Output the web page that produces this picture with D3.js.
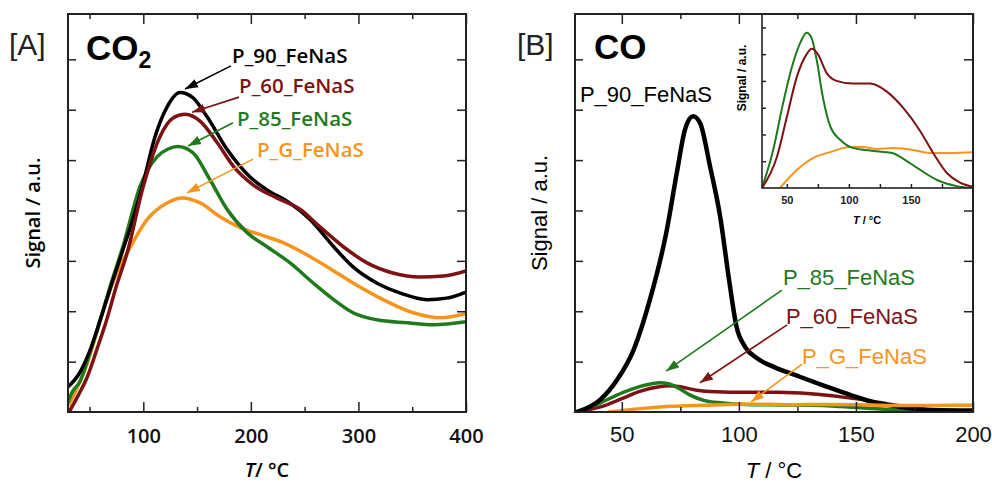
<!DOCTYPE html>
<html>
<head>
<meta charset="utf-8">
<script src="https://cdn.jsdelivr.net/npm/d3@7"></script>
<style>
  body { margin: 0; background: #fff; }
  svg { display: block; }
</style>
</head>
<body>
<svg id="chart" width="992" height="485"></svg>
<script>
// ---- data: [T in °C, signal in tick units] ----
const co2_P90 = [[30,0.5],[40,0.75],[50,1.2],[60,1.83],[70,2.5],[80,3.15],[90,3.8],[100,4.55],[110,5.4],[122,6.05],[134,6.34],[146,6.24],[159,5.87],[178,5.21],[199,4.67],[215,4.41],[236,4.15],[255,3.82],[277,3.28],[295,2.88],[317,2.56],[339,2.36],[364,2.23],[382,2.26],[400,2.38]];
const co2_P60 = [[31,0],[40,0.35],[48,0.7],[57,1.25],[66,1.83],[75,2.5],[85,3.16],[100,4.48],[115.6,5.47],[128,5.84],[139,5.91],[153,5.77],[168.6,5.35],[184,4.87],[202,4.51],[224,4.25],[246,4.02],[264,3.68],[286,3.28],[308,2.96],[332,2.76],[357,2.68],[379,2.7],[400,2.8]];
const co2_P85 = [[30,0.2],[34,0.4],[41,0.6],[50,1.15],[60,1.83],[70,2.55],[81,3.28],[97,4.48],[113,5.07],[123,5.22],[132,5.27],[146,5.15],[162,4.61],[178,4.02],[196.5,3.56],[215,3.28],[236.5,2.96],[258,2.56],[277,2.23],[295,1.97],[317,1.83],[345,1.77],[370,1.73],[400,1.79]];
const co2_PG = [[31,0.15],[40,0.55],[48,0.97],[57,1.6],[66,2.23],[75,2.75],[85,3.16],[103.5,3.82],[122,4.15],[136,4.25],[153,4.15],[171,3.88],[190,3.66],[208.6,3.52],[230,3.36],[248.6,3.16],[271,2.88],[295,2.56],[323,2.23],[351,1.97],[376,1.87],[400,1.95]];

const co_P90 = [[31,0],[40.7,0.24],[48,0.64],[55,1.23],[62,2.23],[69,3.56],[73.5,4.75],[77,5.61],[80.4,5.87],[83.4,5.74],[87.7,4.87],[92,3.88],[96,2.56],[99,1.69],[102.7,1.29],[107.6,1.07],[114.6,0.9],[126,0.7],[137.7,0.5],[147.5,0.34],[157,0.2],[169,0.1],[183,0.04],[200,0.03]];
const co_P85 = [[30,0],[39,0.142],[47,0.317],[54,0.45],[60.6,0.54],[66,0.58],[70,0.56],[74,0.48],[79,0.34],[85,0.23],[93,0.18],[103,0.15],[117,0.14],[135.6,0.13],[143.6,0.11],[155,0.075],[171,0.03],[187,0.007],[200,0]];
const co_P60 = [[30,0],[42,0.116],[50,0.265],[58,0.414],[66,0.5],[70,0.52],[75,0.5],[82,0.43],[90,0.4],[103,0.39],[117,0.39],[130.6,0.36],[143.6,0.3],[157,0.216],[168,0.13],[179,0.056],[189.5,0.02],[200,0.005]];
const co_PG = [[44.5,0],[58,0.067],[71,0.112],[85,0.134],[101,0.153],[111,0.153],[122.6,0.146],[135.6,0.149],[151.7,0.142],[165,0.131],[181.5,0.131],[200,0.134]];

const ticksA = { major: [100, 200, 300, 400], minor: [50, 150, 250, 350] };
const ticksB = { major: [50, 100, 150, 200], minor: [75, 125, 175] };
const ticksY = [1, 2, 3, 4, 5, 6, 7];
const ticksInsetX = [50, 75, 100, 125, 150, 175];
const ticksInsetY = [0.1, 0.2, 0.3, 0.4, 0.5, 0.6];

// labels + arrows in data units: [label x, label y, arrow from x, y, arrow to x, y]
const notesA = [
  ["P_90_FeNaS", "black", 182.5, 6.93, 181.5, 6.87, 138.8, 6.41],
  ["P_60_FeNaS", "red", 189, 6.33, 189, 6.25, 145.3, 5.95],
  ["P_85_FeNaS", "green", 187, 5.68, 183.4, 5.74, 141.6, 5.28],
  ["P_G_FeNaS", "orange", 205.7, 5.06, 202, 5.02, 140.6, 4.35]
];
const notesB = [
  ["P_85_FeNaS", "green", 118.8, 2.52, 118.4, 2.42, 68.9, 0.81],
  ["P_60_FeNaS", "red", 120.1, 1.75, 120.6, 1.73, 83.4, 0.58],
  ["P_G_FeNaS", "orange", 127, 0.95, 127, 0.95, 105.2, 0.2]
];

const color = { black: "#000000", red: "#7d1212", green: "#1f7a1c", orange: "#f7941d" };
const frameColor = "#222";
const fontA = "'Open Sans', sans-serif";
const fontB = "'Liberation Sans', Arial, sans-serif";

const svg = d3.select("#chart");
const defs = svg.append("defs");

Object.entries(color).forEach(([k, c]) => {
  defs.append("marker")
    .attr("id", "arrow-" + k)
    .attr("markerUnits", "userSpaceOnUse")
    .attr("markerWidth", 14).attr("markerHeight", 10)
    .attr("refX", 13).attr("refY", 5)
    .attr("orient", "auto")
    .append("path")
    .attr("d", "M0,0.5 L13,5 L0,9.5 Z")
    .attr("fill", c);
});

function clip(id, x0, y0, x1, y1) {
  defs.append("clipPath").attr("id", id)
    .append("rect").attr("x", x0).attr("y", y0).attr("width", x1 - x0).attr("height", y1 - y0);
  return "url(#" + id + ")";
}

function addAxis(axis, transform) {
  const g = svg.append("g").attr("transform", transform).call(axis);
  g.select(".domain").remove();
  g.selectAll(".tick line").attr("stroke", frameColor).attr("stroke-width", 1.5);
  return g;
}

function drawLine(g, data, x, y, c, w) {
  g.append("path")
    .datum(data)
    .attr("fill", "none")
    .attr("stroke", c)
    .attr("stroke-width", w)
    .attr("stroke-linejoin", "round")
    .attr("stroke-linecap", "round")
    .attr("d", d3.line().x(d => x(d[0])).y(d => y(d[1])).curve(d3.curveMonotoneX));
}

function frameTicks(x, y, t) {
  const [x0, x1] = x.range();
  const [y0, y1] = y.range();
  addAxis(d3.axisBottom(x).tickValues(t.major).tickSizeInner(-10).tickSizeOuter(0).tickFormat(""), `translate(0,${y0})`);
  addAxis(d3.axisBottom(x).tickValues(t.minor).tickSizeInner(-5).tickSizeOuter(0).tickFormat(""), `translate(0,${y0})`);
  addAxis(d3.axisTop(x).tickValues(t.major).tickSizeInner(-10).tickSizeOuter(0).tickFormat(""), `translate(0,${y1})`);
  addAxis(d3.axisTop(x).tickValues(t.minor).tickSizeInner(-5).tickSizeOuter(0).tickFormat(""), `translate(0,${y1})`);
  addAxis(d3.axisLeft(y).tickValues(ticksY).tickSizeInner(-8).tickSizeOuter(0).tickFormat(""), `translate(${x0},0)`);
  addAxis(d3.axisRight(y).tickValues(ticksY).tickSizeInner(-9).tickSizeOuter(0).tickFormat(""), `translate(${x1},0)`);
  svg.append("rect")
    .attr("x", x0).attr("y", y1).attr("width", x1 - x0).attr("height", y0 - y1)
    .attr("fill", "none").attr("stroke", frameColor).attr("stroke-width", 2);
}

function notes(list, x, y, font, size, weight) {
  list.forEach(([txt, c, lx, ly, ax, ay, bx, by]) => {
    svg.append("line")
      .attr("x1", x(ax)).attr("y1", y(ay)).attr("x2", x(bx)).attr("y2", y(by))
      .attr("stroke", color[c]).attr("stroke-width", 1.6)
      .attr("marker-end", `url(#arrow-${c})`);
    svg.append("text")
      .attr("x", x(lx)).attr("y", y(ly))
      .attr("fill", color[c])
      .attr("font-family", font).attr("font-size", size).attr("font-weight", weight)
      .text(txt);
  });
}

// ================= panel A: CO2 =================
const xA = d3.scaleLinear().domain([30, 400]).range([68, 466]);
const yA = d3.scaleLinear().domain([0, 7.9]).range([412, 14]);

const gA = svg.append("g").attr("clip-path", clip("clipA", 68, 14, 466, 412));
drawLine(gA, co2_PG, xA, yA, color.orange, 3.5);
drawLine(gA, co2_P85, xA, yA, color.green, 3.5);
drawLine(gA, co2_P90, xA, yA, color.black, 3.5);
drawLine(gA, co2_P60, xA, yA, color.red, 3.5);

frameTicks(xA, yA, ticksA);

addAxis(d3.axisBottom(xA).tickValues(ticksA.major).tickSize(0).tickPadding(17), "translate(0,412)")
  .attr("font-family", fontA).attr("font-size", 20).attr("font-weight", 600)
  .selectAll("text").attr("fill", "#111");

svg.append("text")
  .attr("x", (68 + 466) / 2).attr("y", 477)
  .attr("text-anchor", "middle")
  .attr("font-family", fontA).attr("font-size", 20).attr("font-weight", 600)
  .call(t => {
    t.append("tspan").attr("font-style", "italic").text("T");
    t.append("tspan").text("/ °C");
  });

svg.append("text")
  .attr("transform", "translate(40,213) rotate(-90)")
  .attr("text-anchor", "middle")
  .attr("font-family", fontA).attr("font-size", 20).attr("font-weight", 600)
  .text("Signal / a.u.");

svg.append("text").attr("x", 9).attr("y", 55)
  .attr("font-family", fontB).attr("font-size", 30).attr("fill", "#222").text("[A]");
svg.append("text").attr("x", 86).attr("y", 60)
  .attr("font-family", fontB).attr("font-size", 35).attr("font-weight", "bold")
  .call(t => {
    t.append("tspan").text("CO");
    t.append("tspan").attr("font-size", 23).attr("dy", 8).text("2");
  });

notes(notesA, xA, yA, fontA, 20.5, 600);

// ================= panel B: CO =================
const xB = d3.scaleLinear().domain([30, 200]).range([575, 973]);
const yB = d3.scaleLinear().domain([0, 7.9]).range([412, 14]);

const gB = svg.append("g").attr("clip-path", clip("clipB", 575, 14, 973, 412));
drawLine(gB, co_P60, xB, yB, color.red, 3.5);
drawLine(gB, co_P85, xB, yB, color.green, 3.5);
drawLine(gB, co_P90, xB, yB, color.black, 4.5);
drawLine(gB, co_PG, xB, yB, color.orange, 3.5);

frameTicks(xB, yB, ticksB);

addAxis(d3.axisBottom(xB).tickValues(ticksB.major).tickSize(0).tickPadding(14), "translate(0,412)")
  .attr("font-family", fontB).attr("font-size", 22)
  .selectAll("text").attr("fill", "#111");

svg.append("text")
  .attr("x", (575 + 973) / 2).attr("y", 478)
  .attr("text-anchor", "middle")
  .attr("font-family", fontB).attr("font-size", 22)
  .call(t => {
    t.append("tspan").attr("font-style", "italic").text("T");
    t.append("tspan").text(" / °C");
  });

svg.append("text")
  .attr("transform", "translate(547,213) rotate(-90)")
  .attr("text-anchor", "middle")
  .attr("font-family", fontB).attr("font-size", 22)
  .text("Signal / a.u.");

svg.append("text").attr("x", 517).attr("y", 55)
  .attr("font-family", fontB).attr("font-size", 30).attr("fill", "#222").text("[B]");
svg.append("text").attr("x", 594).attr("y", 59)
  .attr("font-family", fontB).attr("font-size", 35).attr("font-weight", "bold").text("CO");

svg.append("text").attr("x", xB(32.1)).attr("y", yB(6.15))
  .attr("font-family", fontB).attr("font-size", 22).text("P_90_FeNaS");

notes(notesB, xB, yB, fontB, 22, "normal");

// ================= inset =================
const xI = d3.scaleLinear().domain([30, 200]).range([762, 973]);
const yI = d3.scaleLinear().domain([0, 0.65]).range([188, 14]);

const gI = svg.append("g").attr("clip-path", clip("clipI", 762, 14, 973, 188));
drawLine(gI, co_PG, xI, yI, color.orange, 2);
drawLine(gI, co_P85, xI, yI, color.green, 2);
drawLine(gI, co_P60, xI, yI, color.red, 2);

addAxis(d3.axisBottom(xI).tickValues(ticksInsetX).tickSizeInner(-4).tickSizeOuter(0).tickFormat(""), "translate(0,188)");
addAxis(d3.axisLeft(yI).tickValues(ticksInsetY).tickSizeInner(-4).tickSizeOuter(0).tickFormat(""), "translate(762,0)");
svg.append("rect")
  .attr("x", 762).attr("y", 14).attr("width", 973 - 762).attr("height", 188 - 14)
  .attr("fill", "none").attr("stroke", frameColor).attr("stroke-width", 1.6);

addAxis(d3.axisBottom(xI).tickValues([50, 100, 150]).tickSize(0).tickPadding(8), "translate(0,188)")
  .attr("font-family", fontB).attr("font-size", 11).attr("font-weight", "bold")
  .selectAll("text").attr("fill", "#222");

svg.append("text")
  .attr("x", 867).attr("y", 224)
  .attr("text-anchor", "middle")
  .attr("font-family", fontB).attr("font-size", 11).attr("font-weight", "bold")
  .call(t => {
    t.append("tspan").attr("font-style", "italic").text("T");
    t.append("tspan").text(" / °C");
  });

svg.append("text")
  .attr("transform", "translate(746,78) rotate(-90)")
  .attr("text-anchor", "middle")
  .attr("font-family", fontB).attr("font-size", 12).attr("font-weight", "bold")
  .text("Signal / a.u.");
</script>
</body>
</html>
